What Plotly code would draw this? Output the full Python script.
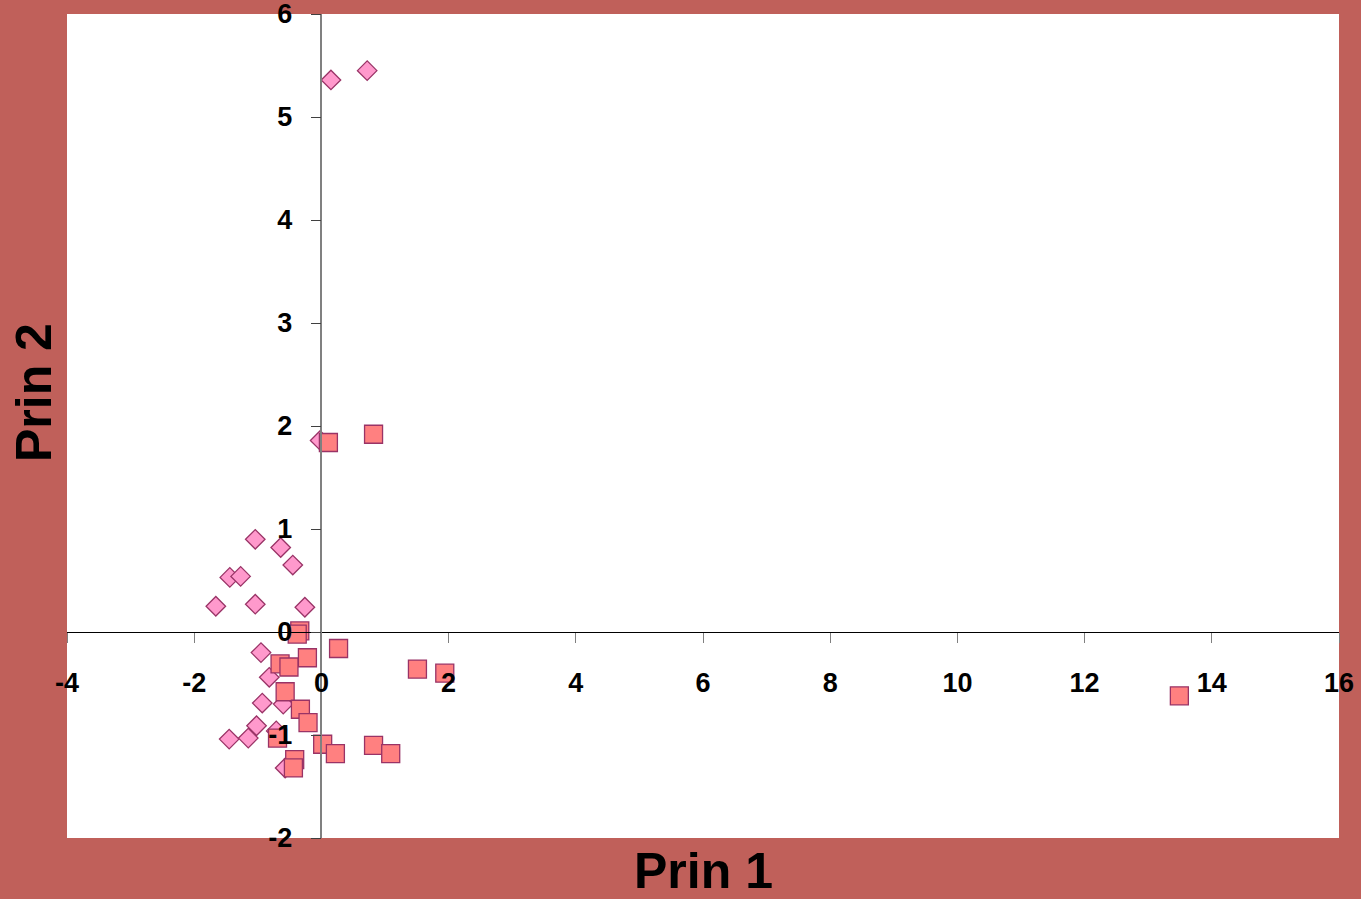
import plotly.graph_objects as go

# Series 1 (diamonds)
d_x = [0.15, 0.72, -0.02, -1.04, -0.64, -0.45, -1.44, -1.27, -1.66, -1.04, -0.26,
       -0.95, -0.82, -0.93, -0.60, -1.02, -1.45, -1.15, -0.71, -0.57]
d_y = [5.36, 5.45, 1.86, 0.90, 0.82, 0.65, 0.53, 0.54, 0.25, 0.27, 0.24,
       -0.20, -0.44, -0.69, -0.70, -0.91, -1.04, -1.03, -0.96, -1.32]

# Series 2 (squares)
s_x = [0.11, 0.82, -0.34, -0.38, 0.27, -0.22, -0.65, -0.51, -0.57, -0.33, -0.21,
       -0.69, 0.02, 0.22, 0.82, 1.09, -0.42, -0.44, 1.51, 1.94, 13.49]
s_y = [1.84, 1.92, 0.01, -0.02, -0.16, -0.25, -0.31, -0.34, -0.58, -0.75, -0.88,
       -1.03, -1.09, -1.18, -1.10, -1.18, -1.24, -1.32, -0.36, -0.40, -0.62]

x_ticks = [-4, -2, 0, 2, 4, 6, 8, 10, 12, 14, 16]
y_ticks = [-2, -1, 0, 1, 2, 3, 4, 5, 6]

FONT = "Liberation Sans, Arial, sans-serif"
BG = "#C0605A"

fig = go.Figure()
fig.add_trace(go.Scatter(
    x=d_x, y=d_y, mode="markers", name="Series 1",
    marker=dict(symbol="diamond", size=15, color="#FF99CC",
                line=dict(color="#993366", width=1.3)),
))
fig.add_trace(go.Scatter(
    x=s_x, y=s_y, mode="markers", name="Series 2",
    marker=dict(symbol="square", size=18, color="#FF8080",
                line=dict(color="#993366", width=1.3)),
))

fig.update_layout(
    width=1361, height=899,
    margin=dict(l=67, r=22, t=14, b=61),
    paper_bgcolor=BG, plot_bgcolor="white",
    showlegend=False,
    font=dict(family=FONT, color="black"),
    xaxis=dict(
        range=[-4, 16], tickvals=x_ticks, ticktext=[str(v) for v in x_ticks],
        showgrid=False, zeroline=False, automargin=False,
        showline=True, linecolor="black", linewidth=1,
        ticks="outside", ticklen=10, tickcolor="#808080", tickwidth=1,
        anchor="free", position=0.25,
        tickfont=dict(family=FONT, size=27, color="black", weight="bold"),
        ticklabelstandoff=17, ticklabeloverflow="allow",
    ),
    yaxis=dict(
        range=[-2, 6], tickvals=y_ticks, ticktext=[str(v) for v in y_ticks],
        showgrid=False, zeroline=False, automargin=False,
        showline=True, linecolor="#808080", linewidth=1.5,
        ticks="outside", ticklen=10, tickcolor="#404040", tickwidth=1,
        anchor="free", position=0.2,
        tickfont=dict(family=FONT, size=27, color="black", weight="bold"),
        ticklabelstandoff=13, ticklabeloverflow="allow",
    ),
    annotations=[
        dict(text="<b>Prin 1</b>", xref="paper", yref="paper", x=0.5, y=0,
             xanchor="center", yanchor="middle", yshift=-33, showarrow=False,
             font=dict(family=FONT, size=50, color="black")),
        dict(text="<b>Prin 2</b>", xref="paper", yref="paper", x=0, y=0.54,
             xanchor="center", yanchor="middle", xshift=-33, textangle=-90,
             showarrow=False,
             font=dict(family=FONT, size=50, color="black")),
    ],
)

fig.write_html("out.html", config={"displayModeBar": False},
               post_script="document.body.style.margin='0';")
